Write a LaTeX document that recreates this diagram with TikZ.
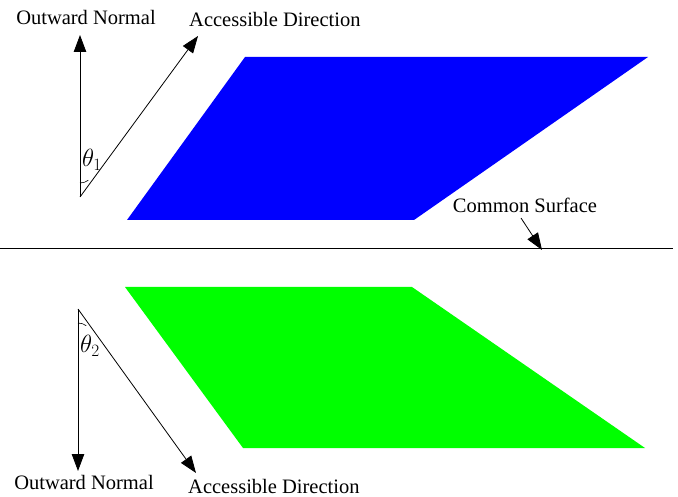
\documentclass[tikz,border=0pt]{standalone}
\usepackage{fontspec}
\setmainfont{Liberation Serif}
\usetikzlibrary{arrows.meta,calc}
\begin{document}
\begin{tikzpicture}[x=1pt,y=-1pt,
  lbl/.style={inner sep=0pt,font=\fontsize{20.5}{23}\selectfont},
  vec/.style={draw=black,line width=0.8pt,-{Triangle[length=17pt,width=12.5pt]}},
  thin/.style={draw=black,line width=0.6pt}]
\useasboundingbox (0,0) rectangle (678,497);
\fill[white] (0,0) rectangle (678,497);
% parallelograms
\fill[blue] (245,57) -- (648,57) -- (414,220) -- (127,220) -- cycle;
\fill[green] (125,287) -- (412,287) -- (645,448) -- (243,448) -- cycle;
% common surface
\coordinate (sl) at (0,249);
\coordinate (sr) at (673,249);
\draw[line width=1pt] (sl) -- (sr);
\node[lbl] (cs) at (525,205) {Common Surface};
\coordinate (csA) at (521,218);
\coordinate (csB) at (542,250);
\draw[vec] (csA) -- (csB);
% top
\coordinate (v1) at (80,197);
\coordinate (n1) at (80,35);
\coordinate (a1) at (198,36);
\draw[vec] (v1) -- (n1);
\draw[vec] (v1) -- (a1);
\draw[thin] ($(v1)+(0,-14)$) arc[start angle=90,end angle={53.6},radius=14];
\node[lbl] (on1) at (86,17) {Outward Normal};
\node[lbl,anchor=west] (ad1) at (189,19) {Accessible Direction};
\node[lbl,font=\fontsize{23}{25}\selectfont] (t1) at (92,160) {$\theta_1$};
% bottom
\coordinate (v2) at (78,309);
\coordinate (n2) at (78,471);
\coordinate (a2) at (196,473);
\draw[vec] (v2) -- (n2);
\draw[vec] (v2) -- (a2);
\draw[thin] ($(v2)+(0,14)$) arc[start angle=-90,end angle={-54.1},radius=14];
\node[lbl] (on2) at (84,482) {Outward Normal};
\node[lbl,anchor=west] (ad2) at (188,486) {Accessible Direction};
\node[lbl,font=\fontsize{23}{25}\selectfont] (t2) at (90,346) {$\theta_2$};
\end{tikzpicture}
\end{document}
